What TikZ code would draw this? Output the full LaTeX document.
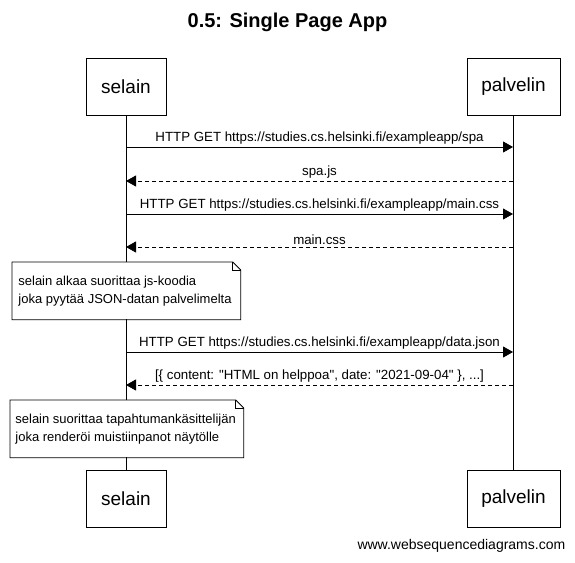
\documentclass[tikz,border=0pt]{standalone}
\usepackage{fontspec}
\setmainfont{Liberation Sans}
\usetikzlibrary{arrows.meta}
\begin{document}
\begin{tikzpicture}[x=1pt,y=-1pt,line width=0.8pt,
	actor/.style={draw,fill=white,minimum height=57pt,font=\fontsize{19}{22}\selectfont},
	msg/.style={-{Triangle[length=10pt,width=11pt]}},
	reply/.style={msg,dash pattern=on 4pt off 3pt},
	lbl/.style={above,inner sep=2pt,font=\fontsize{13.3}{15}\selectfont},
	note/.style={fill=white,anchor=north west,minimum height=57pt,inner sep=0pt},
	notetext/.style={anchor=west,align=left,inner sep=0pt,font=\fontsize{13}{18.5}\selectfont}]
	\useasboundingbox (0,0) rectangle (575,562);
	\node[font=\bfseries\fontsize{20}{24}\selectfont] (title) at (287.5,22) {0.5: Single Page App};
	\node[actor,minimum width=80pt] (s1) at (126,86.5) {selain};
	\node[actor,minimum width=93pt] (p1) at (513.5,86.5) {palvelin};
	\node[actor,minimum width=80pt] (s2) at (126,498.5) {selain};
	\node[actor,minimum width=93pt] (p2) at (513.5,498.5) {palvelin};
	\draw (s1.south) -- (s2.north);
	\draw (p1.south) -- (p2.north);
	\foreach \y [count=\i] in {147,181,214,247,352,385}{
		\coordinate (a\i) at (126,\y);
		\coordinate (b\i) at (513,\y);
	}
	\draw[msg](a1)--node[lbl]{HTTP GET https://studies.cs.helsinki.fi/exampleapp/spa}(b1);
	\draw[reply](b2)--node[lbl]{spa.js}(a2);
	\draw[msg](a3)--node[lbl]{HTTP GET https://studies.cs.helsinki.fi/exampleapp/main.css}(b3);
	\draw[reply](b4)--node[lbl]{main.css}(a4);
	% notes
	\node[note,minimum width=228pt] (n1) at (12,262) {};
	\draw (n1.north west) -- ([xshift=-8pt]n1.north east) -- ([yshift=-8pt]n1.north east) -- (n1.south east) -- (n1.south west) -- cycle;
	\draw ([xshift=-8pt]n1.north east) |- ([yshift=-8pt]n1.north east);
	\node[notetext] (t1) at ([xshift=6pt]n1.west) {selain alkaa suorittaa js-koodia\\joka pyytää JSON-datan palvelimelta};
	\draw[msg](a5)--node[lbl]{HTTP GET https://studies.cs.helsinki.fi/exampleapp/data.json}(b5);
	\draw[reply](b6)--node[lbl]{[\{ content: \textquotedbl HTML on helppoa\textquotedbl, date: \textquotedbl 2021-09-04\textquotedbl\ \}, ...]}(a6);
	\node[note,minimum width=233pt] (n2) at (10,400) {};
	\draw (n2.north west) -- ([xshift=-8pt]n2.north east) -- ([yshift=-8pt]n2.north east) -- (n2.south east) -- (n2.south west) -- cycle;
	\draw ([xshift=-8pt]n2.north east) |- ([yshift=-8pt]n2.north east);
	\node[notetext] (t2) at ([xshift=5pt]n2.west) {selain suorittaa tapahtumankäsittelijän\\joka renderöi muistiinpanot näytölle};
	\node[anchor=east,font=\fontsize{14}{16}\selectfont] (site) at (569,546) {www.websequencediagrams.com};
\end{tikzpicture}
\end{document}
